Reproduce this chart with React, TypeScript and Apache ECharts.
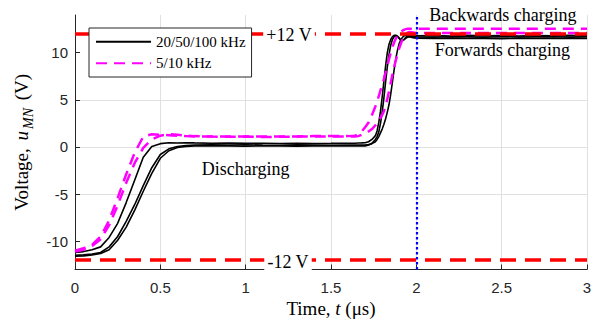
import React, { useEffect, useRef } from 'react';
import * as echarts from 'echarts';

// Shared time grid (µs)
const time = [
  0, 0.05, 0.1, 0.15, 0.2, 0.25, 0.3, 0.35, 0.4, 0.45, 0.5, 0.55, 0.6, 0.65, 0.7,
  0.8, 0.9, 1.0, 1.1, 1.2, 1.3, 1.4, 1.5, 1.6,
  1.64, 1.66, 1.68, 1.7, 1.72, 1.74, 1.76,
  1.77, 1.78, 1.79, 1.8, 1.81, 1.82, 1.83, 1.84, 1.85, 1.86, 1.87, 1.88, 1.89, 1.9, 1.91, 1.92, 1.93, 1.94, 1.95, 1.96,
  1.98, 2.0, 2.1, 2.2, 2.3, 2.4, 2.5, 2.6, 2.7, 2.8, 2.9, 3.0,
];

// 20/50/100 kHz (black)
const blackA = [
  -11.2, -11.1, -10.9, -10.6, -9.6, -8.1, -5.9, -3.5, -1.1, 0.05, 0.35, 0.45, 0.42, 0.45, 0.43,
  0.4, 0.42, 0.38, 0.4, 0.36, 0.4, 0.37, 0.38, 0.4,
  0.4, 0.42, 0.43, 0.45, 0.55, 0.8, 1.2,
  1.7, 2.6, 3.8, 5.3, 7.0, 8.6, 10.0, 10.9, 11.4, 11.7, 11.85, 11.85, 11.75, 11.55, 11.35, 11.3, 11.45, 11.65, 11.8, 11.85,
  11.85, 11.8, 11.82, 11.78, 11.85, 11.8, 11.83, 11.78, 11.82, 11.8, 11.84, 11.8,
];
const blackB = [
  -11.5, -11.45, -11.35, -11.2, -10.6, -9.5, -7.9, -6.1, -4.1, -2.2, -0.8, -0.2, 0.05, 0.15, 0.2,
  0.22, 0.2, 0.24, 0.2, 0.18, 0.22, 0.2, 0.18, 0.2,
  0.2, 0.2, 0.2, 0.2, 0.25, 0.35, 0.55,
  0.8, 1.1, 1.5, 1.9, 2.4, 3.0, 3.7, 4.5, 5.6, 6.9, 8.2, 9.4, 10.3, 11.0, 11.4, 11.65, 11.8, 11.85, 11.8, 11.7,
  11.6, 11.55, 11.5, 11.55, 11.5, 11.52, 11.48, 11.55, 11.5, 11.52, 11.5, 11.5,
];
const blackC = [
  -11.6, -11.55, -11.45, -11.3, -10.9, -9.9, -8.5, -6.7, -4.7, -2.8, -1.2, -0.4, -0.05, 0.05, 0.1,
  0.12, 0.1, 0.08, 0.12, 0.1, 0.08, 0.1, 0.12, 0.1,
  0.1, 0.1, 0.1, 0.1, 0.2, 0.4, 0.8,
  1.1, 1.6, 2.5, 3.7, 5.2, 6.9, 8.5, 9.8, 10.8, 11.4, 11.7, 11.8, 11.7, 11.5, 11.3, 11.3, 11.4, 11.55, 11.65, 11.7,
  11.7, 11.68, 11.65, 11.7, 11.68, 11.65, 11.7, 11.66, 11.68, 11.7, 11.65, 11.68,
];

// 5/10 kHz (magenta)
const magentaA = [
  -11.0, -10.75, -10.4, -9.5, -7.8, -5.4, -2.9, -0.6, 1.1, 1.35, 1.3, 1.25, 1.2, 1.15, 1.1,
  1.1, 1.1, 1.12, 1.1, 1.1, 1.12, 1.15, 1.15, 1.15,
  1.2, 1.35, 1.65, 2.1, 2.6, 3.4, 4.3,
  4.8, 5.4, 6.0, 6.6, 7.2, 7.9, 8.6, 9.3, 10.0, 10.6, 11.1, 11.5, 11.85, 12.1, 12.25, 12.35, 12.45, 12.5, 12.55, 12.55,
  12.55, 12.55, 12.55, 12.55, 12.55, 12.55, 12.55, 12.55, 12.55, 12.55, 12.55, 12.55,
];
const magentaB = [
  -11.1, -10.9, -10.5, -9.8, -8.3, -6.2, -3.8, -1.7, -0.1, 0.8, 1.2, 1.35, 1.3, 1.2, 1.15,
  1.1, 1.08, 1.1, 1.05, 1.08, 1.1, 1.1, 1.12, 1.1,
  1.1, 1.15, 1.3, 1.45, 1.65, 1.9, 2.3,
  2.55, 2.8, 3.1, 3.4, 3.8, 4.4, 5.1, 5.9, 6.8, 7.7, 8.5, 9.2, 9.9, 10.5, 11.0, 11.45, 11.8, 12.0, 12.15, 12.2,
  12.15, 12.1, 12.1, 12.1, 12.1, 12.1, 12.1, 12.1, 12.1, 12.1, 12.1, 12.1,
];

const supplyLevels = [12, -12];
const markerTime = 2;
const yTickValues = [-10, -5, 0, 5, 10];
const xRange = [0, 3];
const yRange = [-13, 14];

const annotations = [
  { text: '+12 V', t: 1.254, v: 11.85, bg: true },
  { text: '-12 V', t: 1.248, v: -12.2, bg: true },
  { text: 'Backwards charging', t: 2.507, v: 13.95, bg: false },
  { text: 'Forwards charging', t: 2.504, v: 10.25, bg: false },
  { text: 'Discharging', t: 1.0, v: -2.3, bg: false },
];

const BLACK_NAME = '20/50/100 kHz';
const MAGENTA_NAME = '5/10 kHz';
const SERIF = '"Liberation Serif", "Times New Roman", serif';
const SANS = '"Liberation Sans", Arial, sans-serif';

const pairs = (vals: number[]) => time.map((t, i) => [t, vals[i]]);

export default function App() {
  const ref = useRef<HTMLDivElement>(null);

  useEffect(() => {
    document.body.style.margin = '0';
    const chart = echarts.init(ref.current!, null, { renderer: 'svg' });

    const blackSeries = [blackA, blackB, blackC].map((d) => ({
      name: BLACK_NAME,
      type: 'line',
      data: pairs(d),
      showSymbol: false,
      symbol: 'none',
      z: 2,
      lineStyle: { color: '#000000', width: 1.6 },
      itemStyle: { color: '#000000' },
    }));
    const magentaSeries = [magentaA, magentaB].map((d) => ({
      name: MAGENTA_NAME,
      type: 'line',
      data: pairs(d),
      showSymbol: false,
      symbol: 'none',
      z: 3,
      lineStyle: { color: '#ff00ff', width: 2.5, type: [11, 7] },
      itemStyle: { color: '#ff00ff' },
    }));

    const option: any = {
      animation: false,
      backgroundColor: '#ffffff',
      grid: { left: 75, right: 7, top: 15, bottom: 53.5, containLabel: false, outerBoundsMode: 'none' },
      legend: {
        data: [{ name: BLACK_NAME }, { name: MAGENTA_NAME }],
        orient: 'vertical',
        left: 89,
        top: 28,
        itemWidth: 55,
        itemHeight: 14,
        itemGap: 6.5,
        padding: [6.25, 6, 6.25, 6],
        backgroundColor: '#ffffff',
        borderColor: '#262626',
        borderWidth: 1,
        borderRadius: 0,
        itemStyle: { opacity: 0, borderWidth: 0 },
        textStyle: { fontFamily: SERIF, fontSize: 15, color: '#000000' },
        selectedMode: false,
        z: 10,
      },
      xAxis: {
        type: 'value',
        min: xRange[0],
        max: xRange[1],
        interval: 0.5,
        name: 'Time, {i|t} (μs)',
        nameLocation: 'middle',
        nameGap: 29,
        nameTextStyle: {
          fontFamily: SERIF,
          fontSize: 19,
          color: '#000000',
          rich: { i: { fontFamily: SERIF, fontSize: 19, fontStyle: 'italic', color: '#000000' } },
        },
        axisLine: { show: true, onZero: false, lineStyle: { color: '#262626', width: 1 } },
        axisTick: { show: true, inside: true, length: 5, lineStyle: { color: '#262626' } },
        axisLabel: { fontFamily: SANS, fontSize: 15, color: '#262626', margin: 10 },
        splitLine: { show: true, showMinLine: false, lineStyle: { color: '#e0e0e0', width: 1 } },
      },
      yAxis: {
        type: 'value',
        min: yRange[0],
        max: yRange[1],
        name: 'Voltage, {i|u}{sub|MN} (V)',
        nameLocation: 'middle',
        nameGap: 36,
        nameTextStyle: {
          fontFamily: SERIF,
          fontSize: 19,
          lineHeight: 28,
          color: '#000000',
          rich: {
            i: { fontFamily: SERIF, fontSize: 19, lineHeight: 28, fontStyle: 'italic', color: '#000000', padding: [0, 2, 0, 3] },
            sub: { fontFamily: SERIF, fontSize: 14, lineHeight: 14, fontStyle: 'italic', color: '#000000', verticalAlign: 'bottom', padding: [0, 3, 0, 0] },
          },
        },
        axisLine: { show: true, onZero: false, lineStyle: { color: '#262626', width: 1 } },
        axisTick: { show: true, inside: true, length: 5, customValues: yTickValues, lineStyle: { color: '#262626' } },
        axisLabel: { fontFamily: SANS, fontSize: 15, color: '#262626', margin: 7, customValues: yTickValues },
        splitLine: { show: true, showMinLine: false, showMaxLine: false, lineStyle: { color: '#e0e0e0', width: 1 } },
      },
      series: [
        ...blackSeries,
        ...magentaSeries,
        {
          name: 'references',
          type: 'line',
          data: [],
          silent: true,
          markLine: {
            silent: true,
            symbol: 'none',
            z: 5,
            label: { show: false },
            data: [
              ...supplyLevels.map((v) => ({
                yAxis: v,
                lineStyle: { color: '#ff0000', width: 3.5, type: [16, 9] },
              })),
              {
                xAxis: markerTime,
                lineStyle: { color: '#0000ff', width: 2.2, type: [2.5, 2.5] },
              },
            ],
          },
        },
      ],
    };

    chart.setOption(option);

    const graphic = annotations.map((a) => {
      const [x, y] = chart.convertToPixel({ gridIndex: 0 }, [a.t, a.v]) as number[];
      return {
        type: 'text',
        x,
        y,
        z: 20,
        silent: true,
        style: {
          text: a.text,
          align: 'center',
          verticalAlign: 'middle',
          fontFamily: SERIF,
          fontSize: 18,
          fill: '#000000',
          backgroundColor: a.bg ? '#ffffff' : undefined,
          padding: a.bg ? [0, 3, 0, 3] : 0,
        },
      };
    });
    chart.setOption({ graphic });

    return () => chart.dispose();
  }, []);

  return <div ref={ref} style={{ width: 594, height: 323 }} />;
}
